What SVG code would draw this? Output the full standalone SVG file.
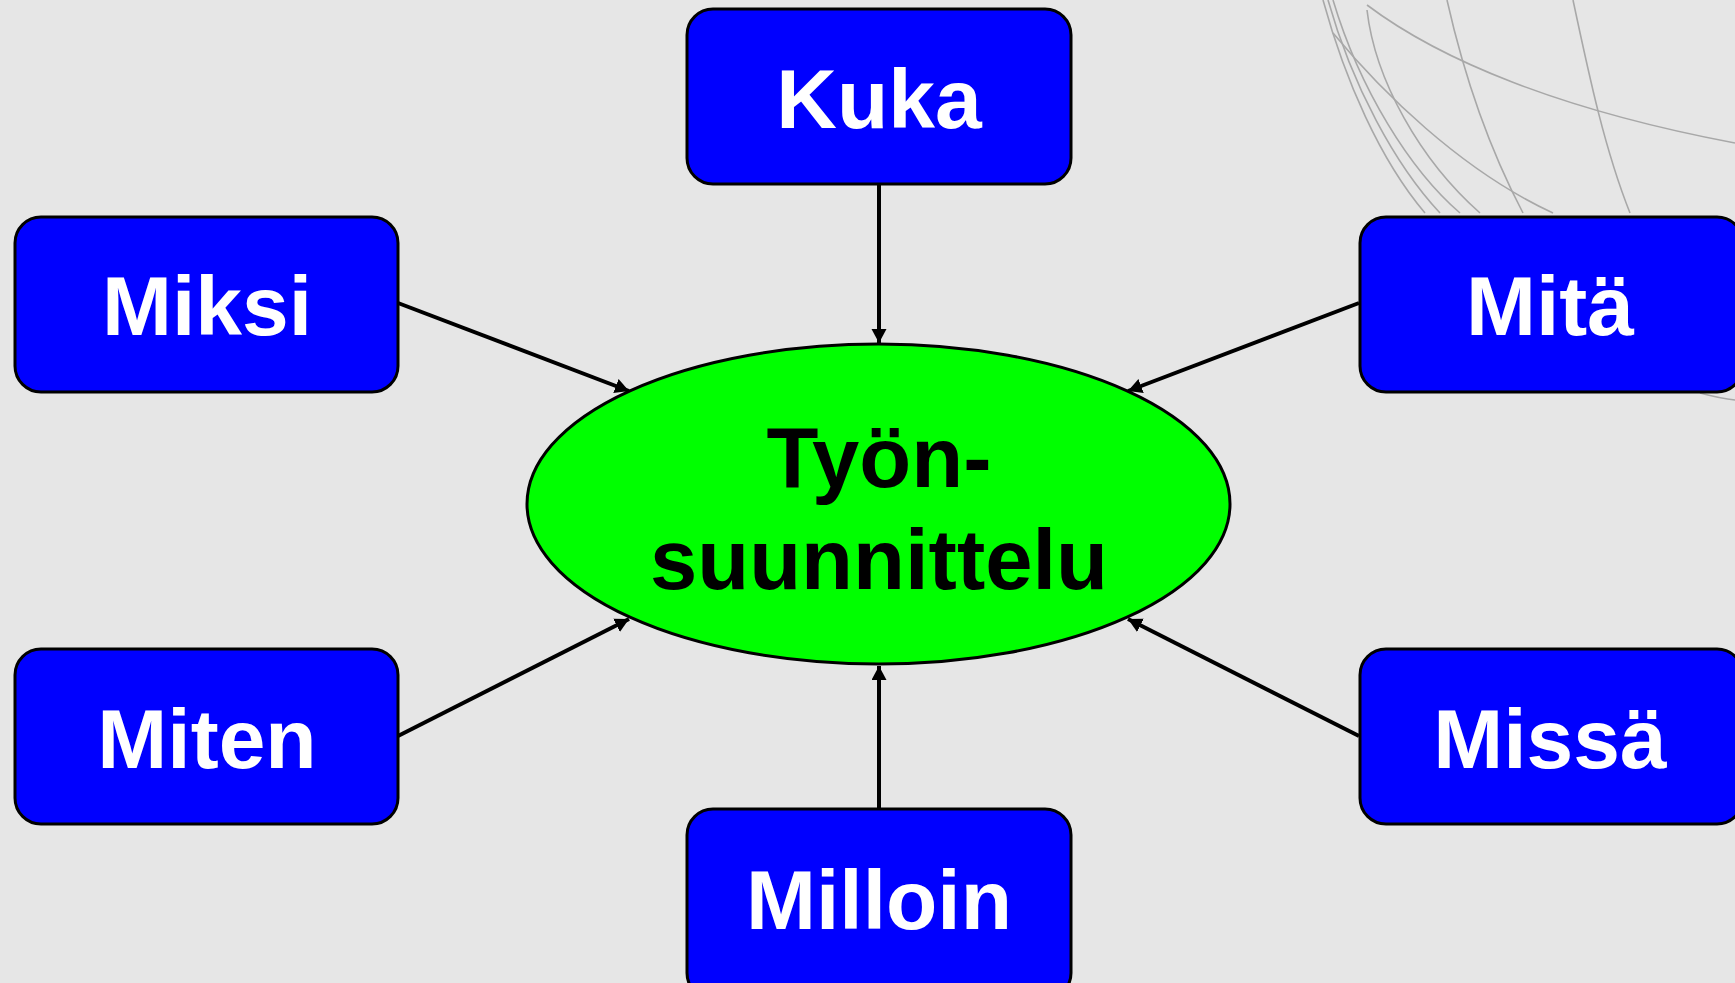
<svg xmlns="http://www.w3.org/2000/svg" width="1735" height="983" viewBox="0 0 1735 983">
<defs>
<style>
.box{fill:#0000ff;stroke:#000;stroke-width:3}
.lbl{font-family:"Liberation Sans",Arial,sans-serif;font-weight:bold;font-size:84px;fill:#fff;text-anchor:middle}
.ctr{font-family:"Liberation Sans",Arial,sans-serif;font-weight:bold;font-size:85px;fill:#000;text-anchor:middle}
.con{stroke:#000;stroke-width:4;fill:none;marker-end:url(#ah)}
.deco{stroke:#a8a8a8;stroke-width:1.6;fill:none}
</style>
<marker id="ah" markerWidth="16" markerHeight="16" refX="14" refY="7.5" orient="auto" markerUnits="userSpaceOnUse">
<path d="M0,0 L14,7.5 L0,15 z" fill="#000"/>
</marker>
</defs>
<rect width="1735" height="983" fill="#e6e6e6"/>
<g id="decoration">
<path class="deco" d="M1323,0 C1345,80 1380,160 1425,213"/>
<path class="deco" d="M1328,0 C1352,85 1395,165 1440,213"/>
<path class="deco" d="M1333,0 C1360,90 1410,170 1460,213"/>
<path class="deco" d="M1367,5 C1440,60 1560,110 1735,143"/>
<path class="deco" d="M1367,10 C1375,80 1420,160 1480,213"/>
<path class="deco" d="M1447,0 C1465,80 1490,150 1523,213"/>
<path class="deco" d="M1573,0 C1590,80 1605,150 1630,213"/>
<path class="deco" d="M1333,33 C1380,90 1460,170 1553,213"/>
<path class="deco" d="M1700,393 C1715,397 1725,399 1735,400"/>
</g>
<g id="connectors">
<line class="con" x1="879" y1="185" x2="879" y2="343"/>
<line class="con" x1="398" y1="303" x2="629" y2="391"/>
<line class="con" x1="1359" y1="303" x2="1128" y2="391"/>
<line class="con" x1="398" y1="736" x2="629" y2="619"/>
<line class="con" x1="1359" y1="736" x2="1128" y2="619"/>
<line class="con" x1="879" y1="809" x2="879" y2="666"/>
</g>
<g id="center">
<ellipse cx="878.5" cy="504" rx="351.5" ry="160" fill="#00ff00" stroke="#000" stroke-width="3"/>
<text class="ctr" x="879" y="487">Työn-</text>
<text class="ctr" x="879" y="589">suunnittelu</text>
</g>
<g id="kuka">
<rect class="box" x="687" y="9" width="384" height="175" rx="26"/>
<text class="lbl" x="879" y="128">Kuka</text>
</g>
<g id="miksi">
<rect class="box" x="15" y="217" width="383" height="175" rx="26"/>
<text class="lbl" x="207" y="335">Miksi</text>
</g>
<g id="mita">
<rect class="box" x="1360" y="217" width="383" height="175" rx="26"/>
<text class="lbl" x="1550" y="335">Mitä</text>
</g>
<g id="miten">
<rect class="box" x="15" y="649" width="383" height="175" rx="26"/>
<text class="lbl" x="207" y="768">Miten</text>
</g>
<g id="missa">
<rect class="box" x="1360" y="649" width="383" height="175" rx="26"/>
<text class="lbl" x="1550" y="768">Missä</text>
</g>
<g id="milloin">
<rect class="box" x="687" y="809" width="384" height="190" rx="26"/>
<text class="lbl" x="879" y="929">Milloin</text>
</g>
</svg>
